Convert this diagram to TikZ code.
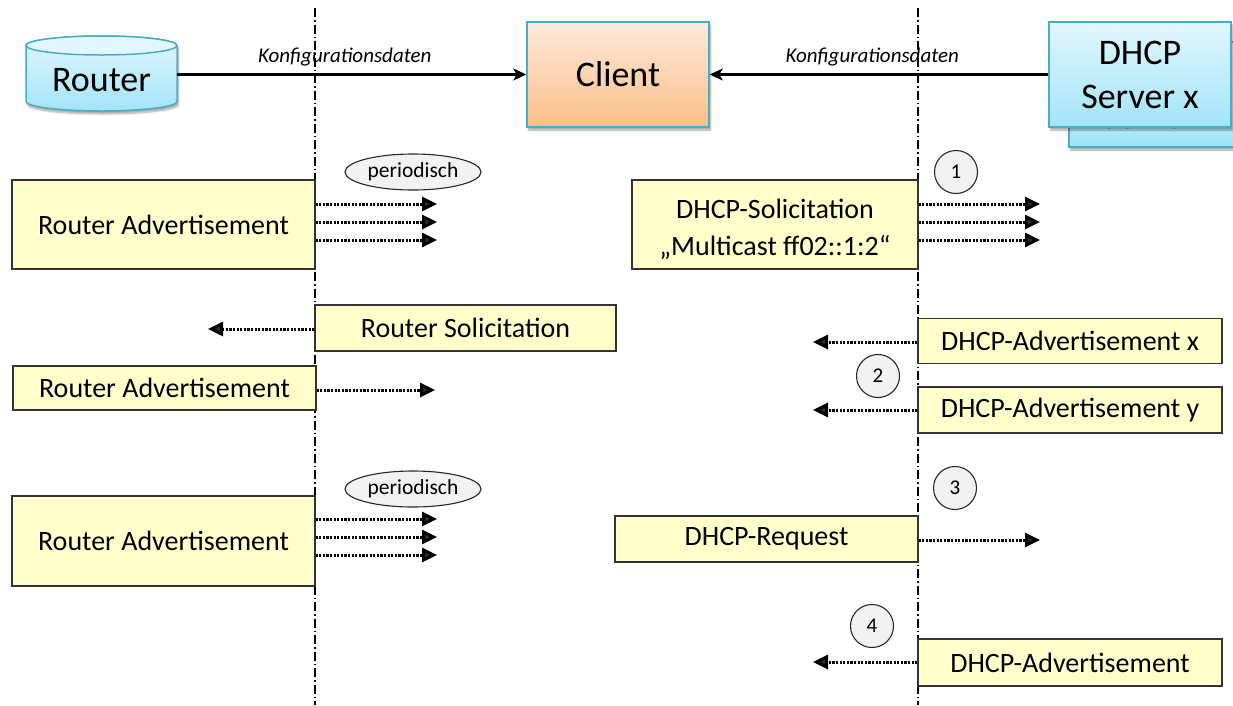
\documentclass[tikz,border=0pt]{standalone}
\usepackage{fontspec}
\setmainfont{Carlito}
\usetikzlibrary{arrows.meta,shapes.geometric,shadows.blur}

\definecolor{boxyellow}{HTML}{FFFFCC}
\definecolor{edgeteal}{HTML}{4BACC6}
\definecolor{peachtop}{HTML}{FDEADC}
\definecolor{peachbot}{HTML}{FBBE88}
\definecolor{cyantop}{HTML}{E2F7FD}
\definecolor{cyanbot}{HTML}{A2E4F8}
\definecolor{bubble}{HTML}{F2F2F2}

\tikzset{
  lifeline/.style={line width=1.4pt, dash pattern=on 9pt off 3pt on 1.5pt off 3pt},
  msg/.style={draw=black!80, line width=1.1pt, fill=boxyellow, inner sep=0pt,
    align=center, font=\fontsize{28}{37}\selectfont},
  entity/.style={draw=edgeteal, line width=1.5pt, shading=axis, inner sep=0pt,
    align=center, minimum width=182, minimum height=105,
    font=\fontsize{36}{44}\selectfont,
    blur shadow={shadow xshift=1.5pt, shadow yshift=-3pt, shadow blur steps=6, shadow opacity=35}},
  peach/.style={top color=peachtop, bottom color=peachbot},
  cyanfill/.style={top color=cyantop, bottom color=cyanbot},
  flow/.style={line width=2.2pt, -{Stealth[length=13pt, width=12pt, inset=3.5pt]}},
  lbl/.style={font=\fontsize{21}{24}\selectfont\itshape, inner sep=0pt},
  dotarrow/.style={line width=3pt, dash pattern=on 2.2pt off 1.4pt,
    -{Triangle[length=15pt, width=14pt]}},
  note/.style={ellipse, draw=black!85, fill=bubble, line width=1.1pt, inner sep=0pt,
    minimum width=136, minimum height=36, font=\fontsize{21.5}{24}\selectfont},
  stepmark/.style={circle, draw=black!85, fill=bubble, line width=1.1pt, inner sep=0pt,
    minimum size=43, font=\fontsize{21}{24}\selectfont},
}

\begin{document}
\begin{tikzpicture}[x=1pt, y=-1pt]
\clip (0,0) rectangle (1233,705);

% two lifelines
\coordinate (l1top) at (315,8);  \coordinate (l1bot) at (315,705);
\coordinate (l2top) at (918,8);  \coordinate (l2bot) at (918,705);
\draw[lifeline] (l1top) -- (l1bot);
\draw[lifeline] (l2top) -- (l2bot);

% router as a cylinder
\path[draw=edgeteal, line width=1.5pt, cyanfill,
      blur shadow={shadow xshift=1.5pt, shadow yshift=-3pt, shadow blur steps=6, shadow opacity=35}]
  (26,45.5) -- (26,101.5)
  arc[start angle=180, end angle=360, x radius=75.5pt, y radius=9.5pt]
  -- (177,45.5)
  arc[start angle=0, end angle=180, x radius=75.5pt, y radius=9.5pt] -- cycle;
\draw[edgeteal, line width=1.5pt, fill=cyantop] (101.5,45.5) ellipse [x radius=75.5pt, y radius=9.5pt];
\node[font=\fontsize{36}{44}\selectfont, minimum width=151, inner sep=0pt] (router) at (101.5,80) {Router};

% client and server
\node[entity, peach] (client) at (618,74.5) {Client};
\node[entity, cyanfill] (srvback) at (1160,94.5) {DHCP\\Server x};
\node[entity, cyanfill] (srv) at (1140,74.5) {DHCP\\Server x};

\draw[flow] (router.east |- client.west) -- node[lbl, pos=0.48, above=7pt] {Konfigurationsdaten} (client.west);
\draw[flow] (srv.west) -- node[lbl, pos=0.52, above=7pt] {Konfigurationsdaten} (client.east);

% router side, periodic advertisement
\node[note] (per1) at (413,172) {periodisch};
\node[msg, minimum width=303, minimum height=89] (ra1) at (163.5,224.5) {Router Advertisement};
\coordinate (ra1a) at (437,204);
\coordinate (ra1b) at (437,222);
\coordinate (ra1c) at (437,240);
\draw[dotarrow] (ra1.east |- ra1a) -- (ra1a);
\draw[dotarrow] (ra1.east |- ra1b) -- (ra1b);
\draw[dotarrow] (ra1.east |- ra1c) -- (ra1c);

% router side, solicited advertisement
\node[msg, minimum width=301, minimum height=46] (rs) at (465.5,328) {Router Solicitation};
\coordinate (rsend) at (208,329);
\draw[dotarrow] (rs.west |- rsend) -- (rsend);
\node[msg, minimum width=303, minimum height=44] (ra2) at (164.5,388) {Router Advertisement};
\coordinate (ra2end) at (435,390);
\draw[dotarrow] (ra2.east |- ra2end) -- (ra2end);

% router side, periodic advertisement again
\node[note] (per2) at (413,489) {periodisch};
\node[msg, minimum width=303, minimum height=90] (ra3) at (163.5,541) {Router Advertisement};
\coordinate (ra3a) at (437,519);
\coordinate (ra3b) at (437,537);
\coordinate (ra3c) at (437,555);
\draw[dotarrow] (ra3.east |- ra3a) -- (ra3a);
\draw[dotarrow] (ra3.east |- ra3b) -- (ra3b);
\draw[dotarrow] (ra3.east |- ra3c) -- (ra3c);

% DHCP side, step 1
\node[stepmark] (s1) at (956,172) {1};
\node[msg, minimum width=286, minimum height=89] (sol) at (775,224.5)
  {\rule{0pt}{30pt}DHCP-Solicitation\\„Multicast ff02::1:2“};
\coordinate (sola) at (1040,204);
\coordinate (solb) at (1040,222);
\coordinate (solc) at (1040,240);
\draw[dotarrow] (sol.east |- sola) -- (sola);
\draw[dotarrow] (sol.east |- solb) -- (solb);
\draw[dotarrow] (sol.east |- solc) -- (solc);

% step 2
\node[msg, minimum width=304, minimum height=45] (advx) at (1070,341) {DHCP-Advertisement x};
\coordinate (advxend) at (813,342);
\draw[dotarrow] (advx.west |- advxend) -- (advxend);
\node[stepmark] (s2) at (878,376) {2};
\node[msg, minimum width=304, minimum height=46] (advy) at (1070,410) {DHCP-Advertisement y};
\coordinate (advyend) at (813,410);
\draw[dotarrow] (advy.west |- advyend) -- (advyend);

% step 3
\node[stepmark] (s3) at (955,488) {3};
\node[msg, minimum width=303, minimum height=46] (req) at (766.5,539) {DHCP-Request};
\coordinate (reqend) at (1040,540);
\draw[dotarrow] (req.east |- reqend) -- (reqend);

% step 4
\node[stepmark] (s4) at (872,626) {4};
\node[msg, minimum width=304, minimum height=47] (adv) at (1070,662.5) {DHCP-Advertisement};
\coordinate (advend) at (813,662);
\draw[dotarrow] (adv.west |- advend) -- (advend);
\end{tikzpicture}
\end{document}
